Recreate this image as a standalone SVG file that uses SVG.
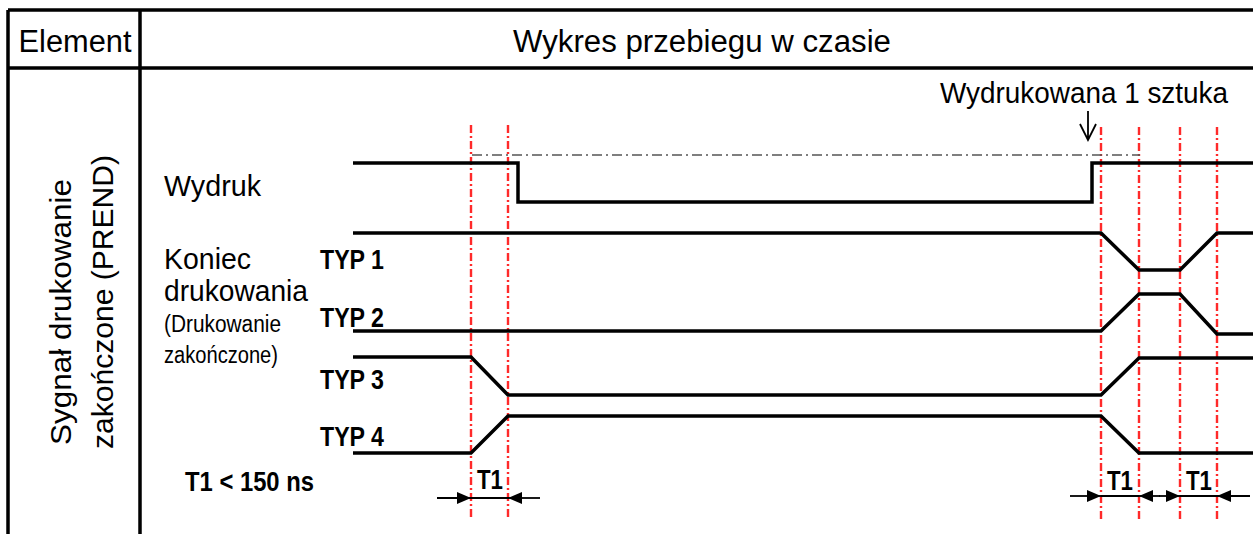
<svg xmlns="http://www.w3.org/2000/svg" width="1253" height="534" viewBox="0 0 1253 534">
<defs>
<style>
.tbl{stroke:#000;stroke-width:3.5;fill:none}
.sig{stroke:#000;stroke-width:3.5;fill:none;stroke-linejoin:miter}
.red{stroke:#ff2a2a;stroke-width:2.4;stroke-dasharray:8 3 2 3;fill:none}
.ref{stroke:#555;stroke-width:1.6;stroke-dasharray:10 4 2 4;fill:none}
.dim{stroke:#000;stroke-width:1.8;fill:none}
.t{font-family:"Liberation Sans",Arial,sans-serif;fill:#000}
.b{font-family:"Liberation Sans",Arial,sans-serif;font-weight:bold;fill:#000}
</style>
<marker id="ah" viewBox="0 0 14 12" refX="14" refY="6" markerWidth="14" markerHeight="12" markerUnits="userSpaceOnUse" orient="auto">
<path d="M0,0 L14,6 L0,12 Z" fill="#000"/>
</marker>
</defs>
<rect width="1253" height="534" fill="#fff"/>
<g id="table">
<path class="tbl" d="M8,10 H1253 M8,68 H1253 M8,10 V534 M140,10 V534"/>
<text class="t" x="75" y="52" font-size="31" text-anchor="middle" textLength="113" lengthAdjust="spacingAndGlyphs">Element</text>
<text class="t" x="702" y="52" font-size="31" text-anchor="middle" textLength="378" lengthAdjust="spacingAndGlyphs">Wykres przebiegu w czasie</text>
<text class="t" font-size="30" text-anchor="middle" transform="translate(71,312) rotate(-90)" textLength="266" lengthAdjust="spacingAndGlyphs">Sygnał drukowanie</text>
<text class="t" font-size="30" text-anchor="middle" transform="translate(113,302) rotate(-90)" textLength="294" lengthAdjust="spacingAndGlyphs">zakończone (PREND)</text>
</g>
<g id="labels">
<text class="t" x="164" y="196" font-size="29" textLength="97" lengthAdjust="spacingAndGlyphs">Wydruk</text>
<text class="t" x="164" y="269" font-size="29" textLength="87" lengthAdjust="spacingAndGlyphs">Koniec</text>
<text class="t" x="164" y="301" font-size="29" textLength="144" lengthAdjust="spacingAndGlyphs">drukowania</text>
<text class="t" x="164" y="332" font-size="23" textLength="117" lengthAdjust="spacingAndGlyphs">(Drukowanie</text>
<text class="t" x="164" y="363" font-size="23" textLength="114" lengthAdjust="spacingAndGlyphs">zakończone)</text>
<text class="b" x="320" y="269" font-size="27" textLength="64" lengthAdjust="spacingAndGlyphs">TYP 1</text>
<text class="b" x="320" y="327" font-size="27" textLength="64" lengthAdjust="spacingAndGlyphs">TYP 2</text>
<text class="b" x="320" y="389" font-size="27" textLength="64" lengthAdjust="spacingAndGlyphs">TYP 3</text>
<text class="b" x="320" y="446" font-size="27" textLength="64" lengthAdjust="spacingAndGlyphs">TYP 4</text>
<text class="b" x="185" y="491" font-size="27" textLength="129" lengthAdjust="spacingAndGlyphs">T1 &lt; 150 ns</text>
<text class="t" x="940" y="103" font-size="29" textLength="288" lengthAdjust="spacingAndGlyphs">Wydrukowana 1 sztuka</text>
<text class="b" x="490" y="489" font-size="27" text-anchor="middle" textLength="26" lengthAdjust="spacingAndGlyphs">T1</text>
<text class="b" x="1120" y="490" font-size="27" text-anchor="middle" textLength="26" lengthAdjust="spacingAndGlyphs">T1</text>
<text class="b" x="1199" y="490" font-size="27" text-anchor="middle" textLength="26" lengthAdjust="spacingAndGlyphs">T1</text>
</g>
<g id="guides">
<line class="red" x1="471" y1="125" x2="471" y2="520"/>
<line class="red" x1="508" y1="125" x2="508" y2="520"/>
<line class="red" x1="1101" y1="127" x2="1101" y2="520"/>
<line class="red" x1="1139" y1="127" x2="1139" y2="520"/>
<line class="red" x1="1180" y1="127" x2="1180" y2="520"/>
<line class="red" x1="1217" y1="127" x2="1217" y2="520"/>
<line class="ref" x1="472" y1="155" x2="1140" y2="155"/>
</g>
<g id="signals">
<path id="wydruk" class="sig" d="M353,163 H518 V202 H1092 V163 H1253"/>
<path id="typ1" class="sig" d="M353,233 H1101 L1139,270 H1180 L1217,233 H1253"/>
<path id="typ2" class="sig" d="M353,331 H1101 L1139,294 H1180 L1217,334 H1253"/>
<path id="typ3" class="sig" d="M353,357 H471 L508,395 H1101 L1139,358 H1253"/>
<path id="typ4" class="sig" d="M353,453 H471 L508,416 H1101 L1139,453 H1253"/>
</g>
<g id="connectors">
<path class="dim" d="M1088,111 V140 M1080,124 L1088,140 L1096,124"/>
<line class="dim" x1="437" y1="498" x2="471" y2="498" marker-end="url(#ah)"/>
<line class="dim" x1="471" y1="498" x2="508" y2="498"/>
<line class="dim" x1="540" y1="498" x2="508" y2="498" marker-end="url(#ah)"/>
<line class="dim" x1="1070" y1="496" x2="1101" y2="496" marker-end="url(#ah)"/>
<line class="dim" x1="1101" y1="496" x2="1139" y2="496"/>
<line class="dim" x1="1160" y1="496" x2="1139" y2="496" marker-end="url(#ah)"/>
<line class="dim" x1="1159" y1="496" x2="1180" y2="496" marker-end="url(#ah)"/>
<line class="dim" x1="1180" y1="496" x2="1217" y2="496"/>
<line class="dim" x1="1250" y1="496" x2="1217" y2="496" marker-end="url(#ah)"/>
</g>
</svg>
